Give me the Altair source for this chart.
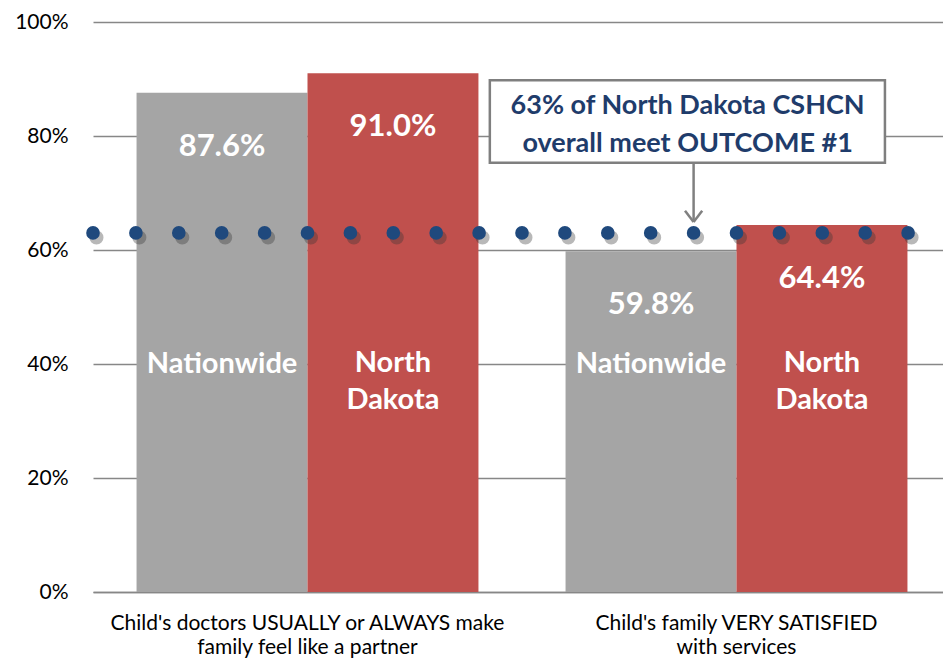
import altair as alt
import pandas as pd

# ---- data ----
categories = [
    "Child's doctors USUALLY or ALWAYS make|family feel like a partner",
    "Child's family VERY SATISFIED|with services",
]
series = ["Nationwide", "North Dakota"]
values = [[87.6, 91.0], [59.8, 64.4]]
value_labels = [["87.6%", "91.0%"], ["59.8%", "64.4%"]]
overall_pct = 63
dot_index = list(range(21))
y_ticks = [0, 20, 40, 60, 80, 100]
note_text = "63% of North Dakota CSHCN\noverall meet OUTCOME #1"

rows = []
for ci, c in enumerate(categories):
    for si, s in enumerate(series):
        rows.append({"category": c, "series": s, "value": values[ci][si],
                     "label": value_labels[ci][si]})
df = pd.DataFrame(rows)

W, H = 858, 570
FONT = "Lato"
GRID = "#878787"
NOTE_COLOR = "#1F3C6B"
DOT_COLOR = "#1F497D"

x_band = alt.X(
    "category:N", sort=categories,
    scale=alt.Scale(paddingInner=0.203, paddingOuter=0.1015),
    axis=alt.Axis(title=None, labelAngle=0, labelExpr="split(datum.value, '|')",
                  labelFont=FONT, labelFontSize=21, labelColor="#000000",
                  labelPadding=20, labelLineHeight=24, ticks=False, tickSize=0,
                  domainColor=GRID, domainWidth=1.5, labelLimit=600),
)
x_off = alt.XOffset("series:N", sort=series, scale=alt.Scale(paddingInner=0, paddingOuter=0))
y_scale = alt.Scale(domain=[0, 100], nice=False)
y_enc = alt.Y(
    "value:Q", scale=y_scale,
    axis=alt.Axis(title=None, values=y_ticks, labelExpr="datum.value + '%'",
                  labelFont=FONT, labelFontSize=21, labelColor="#000000",
                  labelPadding=25, ticks=False, tickSize=0, domain=False,
                  grid=True, gridColor=GRID, gridWidth=1.4),
)

base = alt.Chart(df).encode(x=x_band, xOffset=x_off)

bars = base.mark_bar().encode(
    y=y_enc,
    color=alt.Color("series:N", scale=alt.Scale(domain=series, range=["#A5A5A5", "#C0504D"]),
                    legend=None),
)
val_text = base.mark_text(dy=54, color="white", font=FONT, fontSize=31,
                          fontWeight="bold", baseline="middle").encode(
    y=alt.Y("value:Q", title=None), text="label:N")
nat_text = base.transform_filter(alt.datum.series == series[0]).mark_text(
    color="white", font=FONT, fontSize=29, fontWeight="bold", baseline="middle").encode(
    y=alt.datum(40), text="series:N")
nd_text = base.transform_filter(alt.datum.series == series[1]).mark_text(
    color="white", font=FONT, fontSize=29, fontWeight="bold", baseline="middle",
    lineBreak=" ", lineHeight=37).encode(
    y=alt.datum(40.2), text="series:N")

# ---- annotation marks (dotted 63% line, note box, arrow) ----
xq_scale = alt.Scale(domain=[0, 20], nice=False, zero=False)
dots_df = pd.DataFrame({"i": dot_index})

shadow = alt.Chart(dots_df).transform_calculate(
    xs="datum.i + 0.08").mark_point(filled=True, size=200, color="#333333", opacity=0.35).encode(
    x=alt.X("xs:Q", scale=xq_scale, axis=None),
    y=alt.datum(overall_pct - 0.8))
dots = alt.Chart(dots_df).mark_point(filled=True, size=185, color=DOT_COLOR, opacity=1).encode(
    x=alt.X("i:Q", scale=xq_scale, axis=None),
    y=alt.datum(overall_pct))

one = pd.DataFrame({"a": [0]})
box = alt.Chart(one).mark_rect(fill="white", stroke="#7F7F7F", strokeWidth=2.5).encode(
    x=alt.datum(9.25, scale=xq_scale, axis=None), x2=alt.datum(18.46),
    y=alt.datum(89.8), y2=alt.datum(75.3))
note = alt.Chart(one).mark_text(font=FONT, fontSize=27, fontWeight="bold", color=NOTE_COLOR,
                                lineBreak="\n", lineHeight=38, baseline="middle").encode(
    x=alt.datum(13.86, scale=xq_scale, axis=None), y=alt.datum(85.3),
    text=alt.value(note_text))
arrow = alt.Chart(one).mark_rule(color="#808080", strokeWidth=2.5).encode(
    x=alt.datum(14, scale=xq_scale, axis=None), y=alt.datum(75.3), y2=alt.datum(65.0))
head_l = alt.Chart(one).mark_rule(color="#808080", strokeWidth=2.5).encode(
    x=alt.datum(13.8, scale=xq_scale, axis=None), x2=alt.datum(14.0),
    y=alt.datum(66.9), y2=alt.datum(64.9))
head_r = alt.Chart(one).mark_rule(color="#808080", strokeWidth=2.5).encode(
    x=alt.datum(14.2, scale=xq_scale, axis=None), x2=alt.datum(14.0),
    y=alt.datum(66.9), y2=alt.datum(64.9))

bar_layer = alt.layer(bars, val_text, nat_text, nd_text)
ann_layer = alt.layer(shadow, dots, arrow, head_l, head_r, box, note)

chart = alt.layer(bar_layer, ann_layer).resolve_scale(x="independent").properties(
    width=W, height=H,
    autosize=alt.AutoSizeParams(type="none"),
    padding={"left": 85, "top": 14, "right": -8, "bottom": 68},
    background="white",
).configure_view(stroke=None)

chart.save("out.html", embed_options={"renderer": "svg", "actions": False})
